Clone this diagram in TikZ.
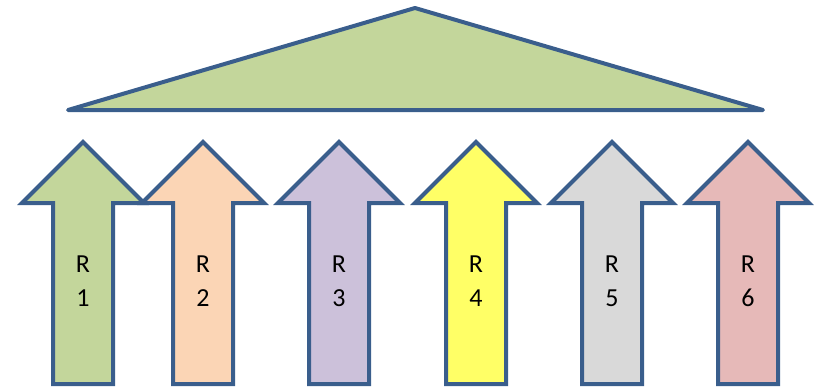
\documentclass[tikz,border=0pt]{standalone}
\usepackage{fontspec}
\setmainfont{Carlito}
\definecolor{edge}{HTML}{3A5E8C}
\definecolor{cA}{HTML}{C3D69B}
\definecolor{cB}{HTML}{FBD5B5}
\definecolor{cC}{HTML}{CCC1DA}
\definecolor{cD}{HTML}{FFFF66}
\definecolor{cE}{HTML}{D9D9D9}
\definecolor{cF}{HTML}{E6B9B8}
\tikzset{
  outline/.style={draw=edge, line width=4pt, line join=miter},
  label/.style={font=\fontsize{26}{34}\selectfont, align=center, text=black, inner sep=0pt}
}
\begin{document}
\begin{tikzpicture}[x=1pt,y=-1pt]
\useasboundingbox (0,0) rectangle (819,388);
\draw[outline, fill=cA, line join=round, line cap=round] (68,110) -- (415,8) -- (763,110) -- cycle;
\foreach \cx/\col/\n in {83/cA/1, 203/cB/2, 339/cC/3, 476/cD/4, 612/cE/5, 748/cF/6} {
  \draw[outline, fill=\col] (\cx,142) -- (\cx+61,203) -- (\cx+30,203) -- (\cx+30,384)
     -- (\cx-30,384) -- (\cx-30,203) -- (\cx-61,203) -- cycle;
  \node[label] (r\n) at (\cx,281) {R\\\n};
}
\end{tikzpicture}
\end{document}
